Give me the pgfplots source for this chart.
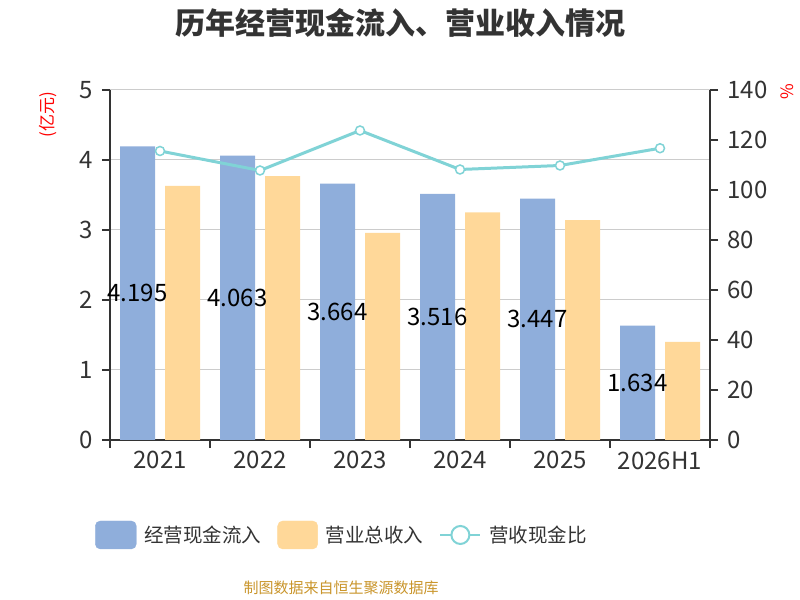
\documentclass[border=0pt]{standalone}
\usepackage{pgfplots}
\pgfplotsset{compat=1.18}
\usepackage{pgfplotstable}
\usepackage{fontspec}
\setmainfont{Noto Sans CJK SC}
\definecolor{cblue}{HTML}{8FAEDB}
\definecolor{corange}{HTML}{FFD899}
\definecolor{cteal}{HTML}{80D3D6}
\definecolor{ctext}{HTML}{333333}
\definecolor{cgrid}{HTML}{CCCCCC}
\definecolor{cfoot}{HTML}{C9952B}

\pgfplotstableread{
x cash rev ratio
0 4.195 3.63 115.6
1 4.063 3.77 107.8
2 3.664 2.96 123.8
3 3.516 3.25 108.2
4 3.447 3.14 109.8
5 1.634 1.40 116.7
}\data

\begin{document}
\begin{tikzpicture}[x=1bp,y=1bp]
\path[use as bounding box] (0,0) rectangle (800,600);
\node[font=\fontsize{30bp}{34bp}\selectfont\bfseries, text=ctext] at (400,577) {历年经营现金流入、营业收入情况};
\node[font=\fontsize{17bp}{19bp}\selectfont, text=red, rotate=90] at (48,485) {(亿元)};
\node[font=\fontsize{17bp}{19bp}\selectfont, text=red, rotate=90] at (787,508) {\%};
\node[font=\fontsize{15bp}{18bp}\selectfont, text=cfoot] at (341,12) {制图数据来自恒生聚源数据库};

\begin{axis}[
  at={(110bp,160bp)}, anchor=south west, scale only axis,
  width=600bp, height=350bp,
  xmin=-0.5, xmax=5.5, ymin=0, ymax=5,
  axis x line*=bottom, axis y line*=left,
  axis line style={ctext, line width=1.3bp, -},
  xtick={0,...,5}, xticklabels={2021,2022,2023,2024,2025,2026H1},
  minor xtick={-0.5,0.5,...,5.5},
  ytick={0,...,5},
  tick align=outside,
  major tick length=8bp, minor tick length=8bp,
  tick style={ctext, line width=1.3bp},
  major x tick style={draw=none},
  ymajorgrids, y grid style={cgrid, line width=1bp},
  ticklabel style={font=\fontsize{24bp}{28bp}\selectfont, text=ctext},
  yticklabel style={xshift=-6bp},
  /pgf/number format/assume math mode=true,
  clip=false,
]
\addplot[ybar, bar width=35bp, bar shift=-22.5bp, fill=cblue, draw=none] table[x=x,y=cash]{\data};
\addplot[ybar, bar width=35bp, bar shift=22.5bp, fill=corange, draw=none] table[x=x,y=rev]{\data};
\addplot[draw=none, mark=none, nodes near coords, point meta=explicit symbolic,
  every node near coord/.append style={anchor=center, font=\fontsize{24bp}{28bp}\selectfont, text=black}]
  table[x expr=\thisrow{x}-0.225, y expr=\thisrow{cash}/2, meta=cash]{\data};
\end{axis}

\begin{axis}[
  at={(110bp,160bp)}, anchor=south west, scale only axis,
  width=600bp, height=350bp,
  xmin=-0.5, xmax=5.5, ymin=0, ymax=140,
  axis x line=none, axis y line*=right,
  axis line style={ctext, line width=1.3bp, -},
  ytick={0,20,...,140},
  tick align=outside, major tick length=8bp,
  tick style={ctext, line width=1.3bp},
  ticklabel style={font=\fontsize{24bp}{28bp}\selectfont, text=ctext},
  yticklabel style={xshift=6bp},
  /pgf/number format/assume math mode=true,
  clip=false,
  legend style={draw=none, fill=none, at={(axis description cs:0.385,-0.2714)}, anchor=center,
    legend columns=-1, font=\fontsize{19.5bp}{24bp}\selectfont,
    /tikz/every odd column/.append style={column sep=8bp},
    /tikz/every even column/.append style={column sep=16bp},
    nodes={inner sep=0pt, text=ctext}},
]
\addlegendimage{legend image code/.code={\fill[cblue, rounded corners=5bp] (0bp,-14bp) rectangle (41bp,14bp);}}
\addlegendentry{经营现金流入}
\addlegendimage{legend image code/.code={\fill[corange, rounded corners=5bp] (0bp,-14bp) rectangle (40bp,14bp);}}
\addlegendentry{营业总收入}
\addplot[cteal, line width=3bp, mark=*, mark size=4.5bp,
  mark options={fill=white, draw=cteal, line width=1.5bp},
  legend image code/.code={\draw[cteal, line width=2bp] (0bp,0bp) -- (40bp,0bp);
    \draw[cteal, line width=2bp, fill=white] (20bp,0bp) circle (9bp);}]
  table[x=x,y=ratio]{\data};
\addlegendentry{营收现金比}
\end{axis}
\end{tikzpicture}
\end{document}
